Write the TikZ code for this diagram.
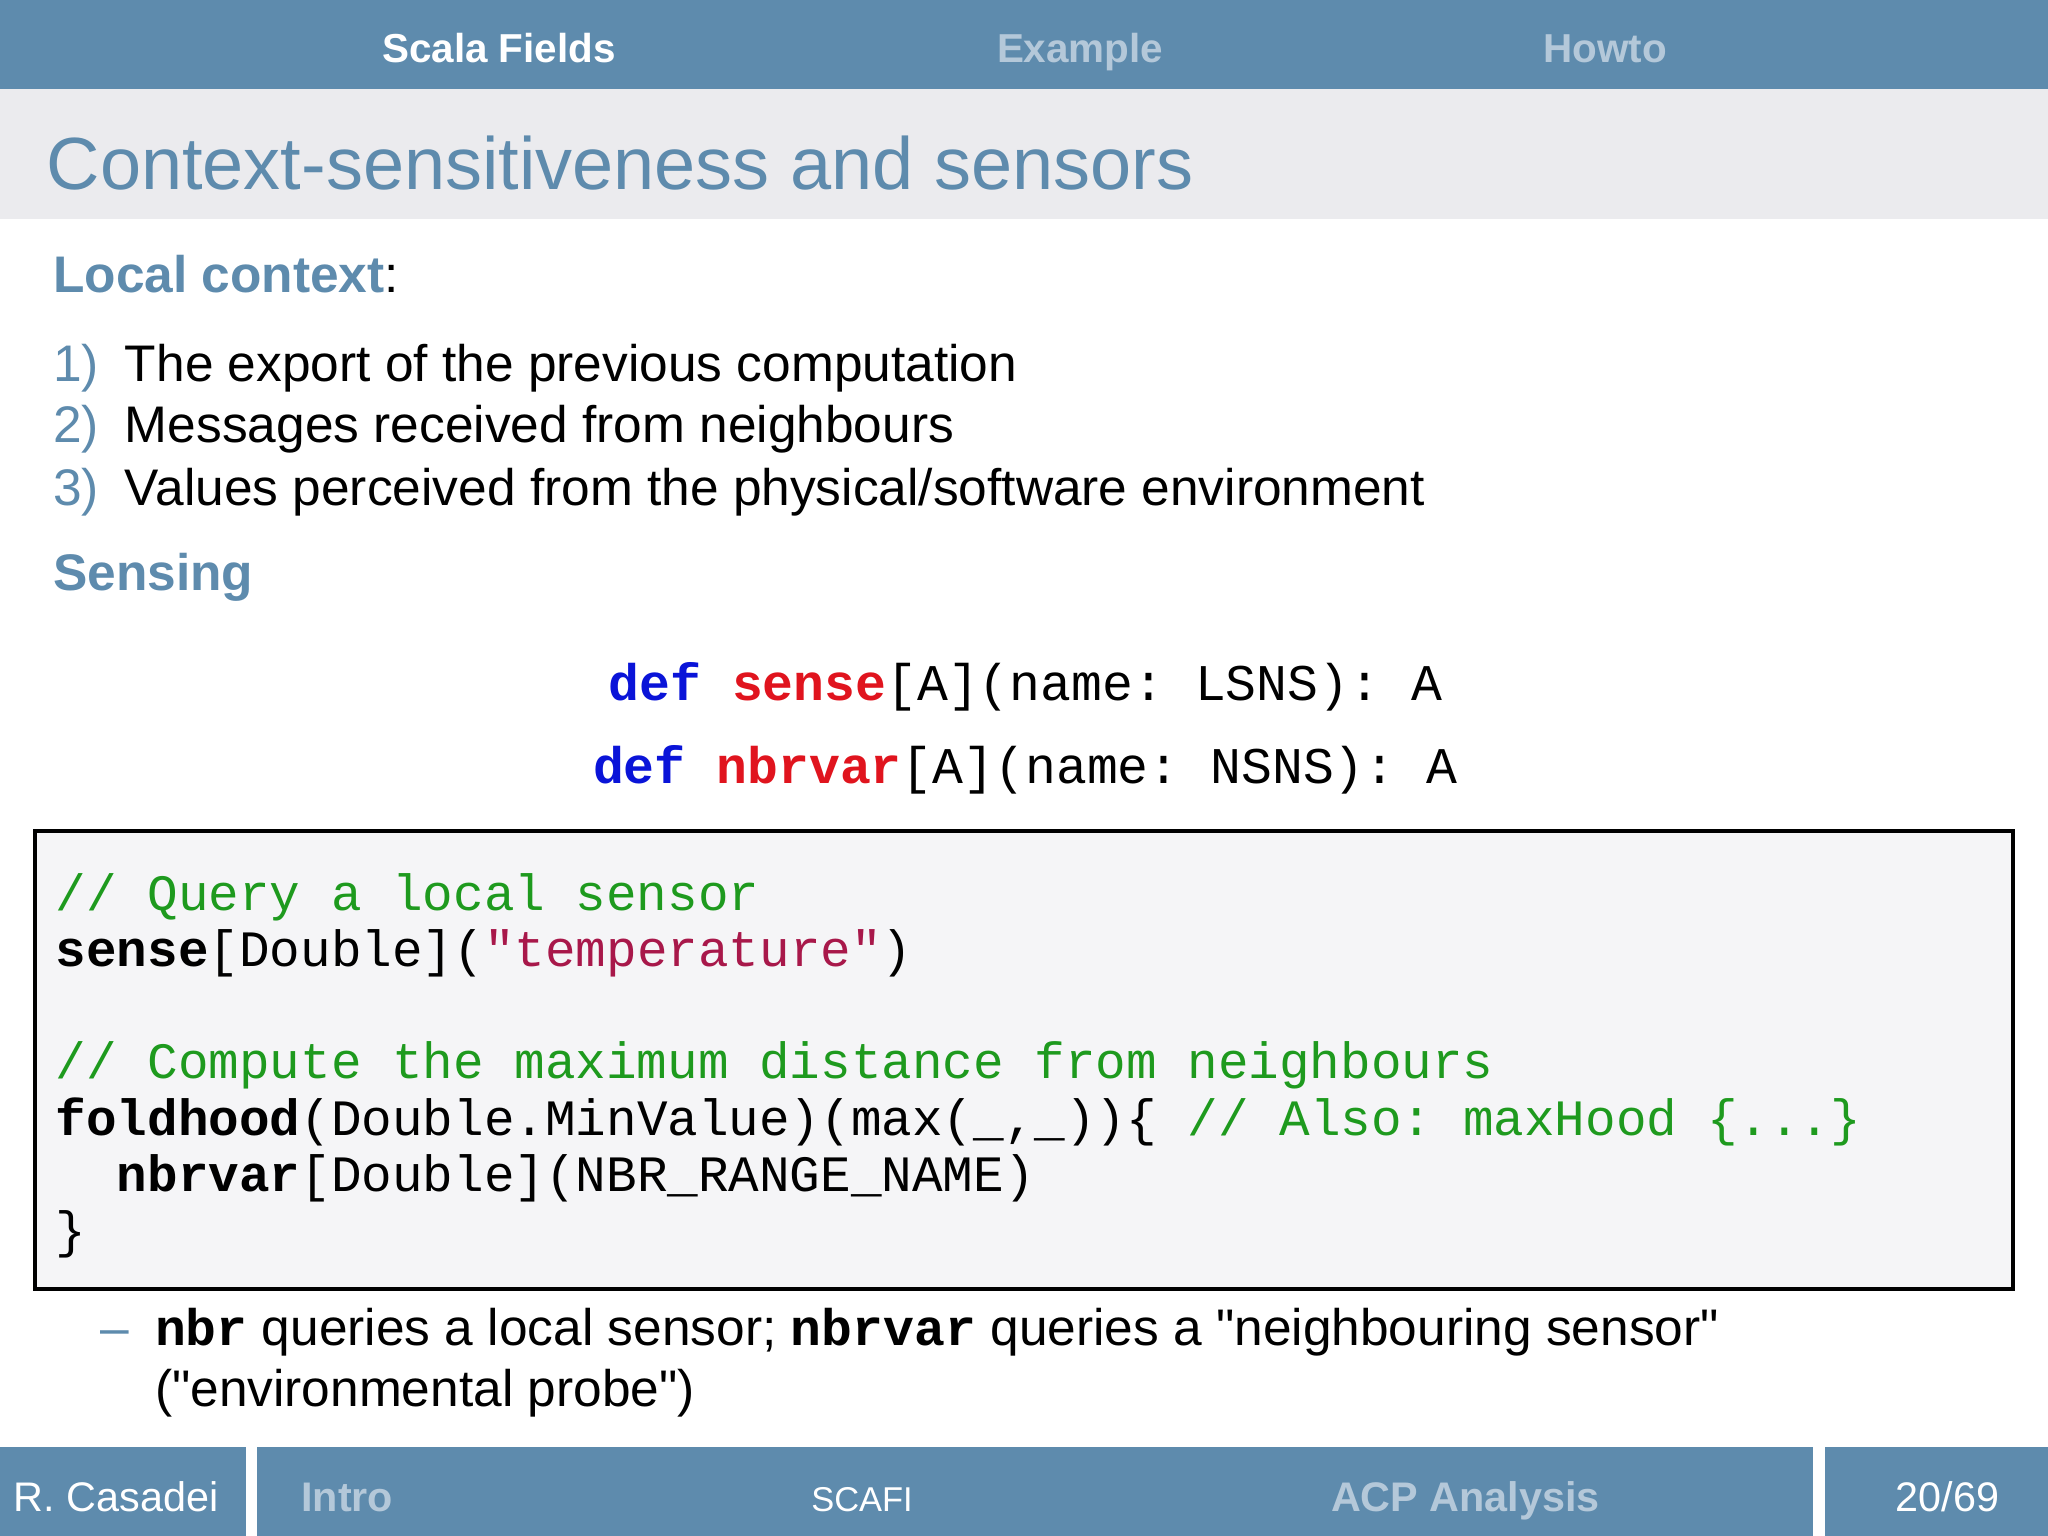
\documentclass[tikz,border=0pt]{standalone}
\usepackage{fontspec}
\setmainfont{Liberation Sans}
\setmonofont{Liberation Mono}
\definecolor{bar}{HTML}{5E8BAD}
\definecolor{dim}{HTML}{B4C8D9}
\definecolor{band}{HTML}{EBEBEE}
\definecolor{kw}{HTML}{0A14D8}
\definecolor{fn}{HTML}{E0141E}
\definecolor{cm}{HTML}{1E9A1E}
\definecolor{str}{HTML}{A8184A}
\begin{document}
\begin{tikzpicture}[x=0.01cm,y=-0.01cm,
  hd/.style={font=\fontsize{8.8}{10}\selectfont\bfseries,anchor=base},
  body/.style={font=\fontsize{11.2}{13}\selectfont,anchor=base west,inner sep=0},
  code/.style={font=\fontsize{11.1}{13}\ttfamily,anchor=base west,inner sep=0},
  sig/.style={font=\fontsize{11.2}{13}\ttfamily,anchor=base,inner sep=0}]
\useasboundingbox (0,0) rectangle (1568,1176);
\fill[bar] (0,0) rectangle (1568,68);
\fill[band] (0,68) rectangle (1568,168);
\node[hd,text=white] (t1) at (382,48) {Scala Fields};
\node[hd,text=dim] (t2) at (827,48) {Example};
\node[hd,text=dim] (t3) at (1229,48) {Howto};
\node[body,text=bar,font=\fontsize{16.1}{18}\selectfont] (title) at (35,145) {Context-sensitiveness and sensors};
\node[body] (lc) at (40,224) {\textcolor{bar}{\bfseries Local context}:};
\node[body,text=bar] (n1) at (40,292) {1)};
\node[body] (i1) at (95,292) {The export of the previous computation};
\node[body,text=bar] (n2) at (40,339) {2)};
\node[body] (i2) at (95,339) {Messages received from neighbours};
\node[body,text=bar] (n3) at (40,387) {3)};
\node[body] (i3) at (95,387) {Values perceived from the physical/software environment};
\node[body,text=bar,font=\fontsize{11.2}{13}\selectfont\bfseries] (sen) at (40,452) {Sensing};
\node[sig] (s1) at (785,536) {\textbf{\textcolor{kw}{def}} \textbf{\textcolor{fn}{sense}}[A](name: LSNS): A};
\node[sig] (s2) at (785,600) {\textbf{\textcolor{kw}{def}} \textbf{\textcolor{fn}{nbrvar}}[A](name: NSNS): A};
\draw[fill={rgb,255:red,245;green,245;blue,247},line width=0.8pt] (27,636) rectangle (1541,987);
\node[code,text=cm] (c1) at (42,697) {// Query a local sensor};
\node[code] (c2) at (42,740) {\textbf{sense}[Double](\textcolor{str}{\textquotedbl temperature\textquotedbl})};
\node[code,text=cm] (c3) at (42,826) {// Compute the maximum distance from neighbours};
\node[code] (c4) at (42,869) {\textbf{foldhood}(Double.MinValue)(max(\_,\_))\{ \textcolor{cm}{// Also: maxHood \{...\}}};
\node[code] (c5) at (42,912) {\phantom{xx}\textbf{nbrvar}[Double](NBR\_RANGE\_NAME)};
\node[code] (c6) at (42,955) {\}};
\node[body,text=bar] (d) at (76,1030) {--};
\node[body] (b1) at (118,1030) {\texttt{\textbf{nbr}} queries a local sensor; \texttt{\textbf{nbrvar}} queries a \textquotedbl neighbouring sensor\textquotedbl};
\node[body] (b2) at (118,1077) {(\textquotedbl environmental probe\textquotedbl)};
\fill[bar] (0,1108) rectangle (188,1176);
\fill[bar] (197,1108) rectangle (1388,1176);
\fill[bar] (1397,1108) rectangle (1568,1176);
\node[body,text=white,font=\fontsize{9}{11}\selectfont] (f1) at (10,1157) {R. Casadei};
\node[body,text=dim,font=\fontsize{9}{11}\selectfont\bfseries] (f2) at (230,1157) {Intro};
\node[hd,text=white,font=\fontsize{7.5}{9}\selectfont] (f3) at (660,1157) {SCAFI};
\node[hd,text=dim,font=\fontsize{9}{11}\selectfont\bfseries] (f4) at (1122,1157) {ACP Analysis};
\node[hd,text=white,font=\fontsize{9}{11}\selectfont] (f5) at (1491,1157) {20/69};
\end{tikzpicture}
\end{document}
